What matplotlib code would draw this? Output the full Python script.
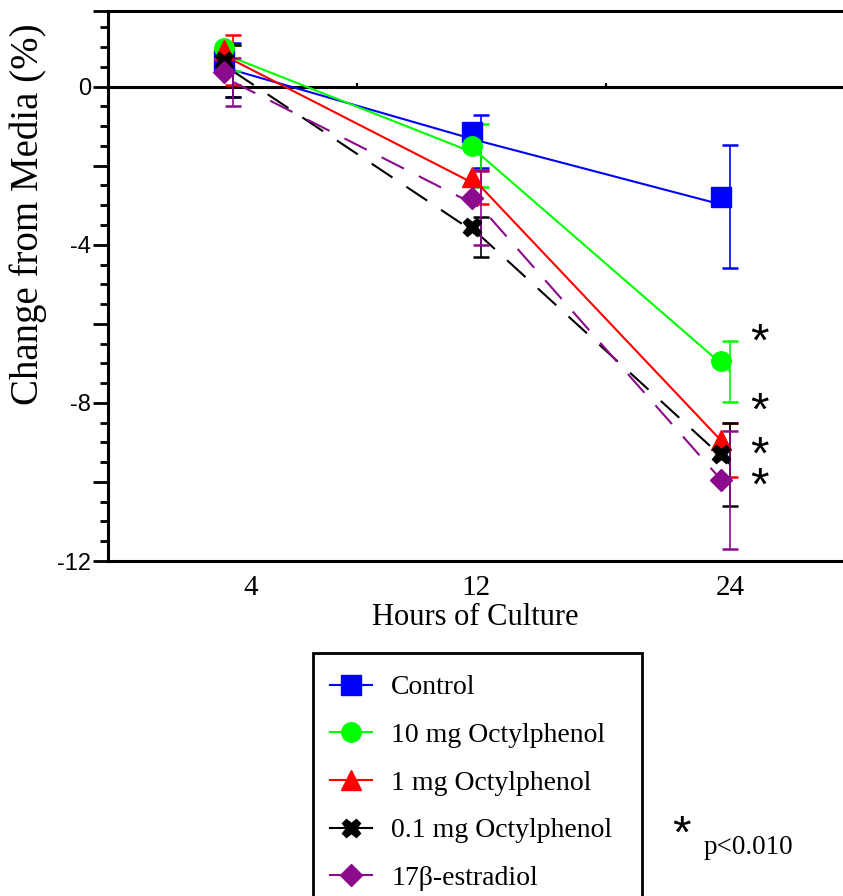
import numpy as np
import matplotlib
matplotlib.use('Agg')
import matplotlib.pyplot as plt
import matplotlib.transforms as mtransforms
from matplotlib.ticker import FixedLocator, FixedFormatter, MultipleLocator
from matplotlib.lines import Line2D
from matplotlib.patches import Rectangle

# data
hours = ['4', '12', '24']
names = ['Control', '10 mg Octylphenol', '1 mg Octylphenol',
         '0.1 mg Octylphenol', '17\u03b2-estradiol']
control = [0.42, -1.39, -3.04]
control_err = [0.68, 0.68, 1.56]
op10 = [0.73, -1.75, -7.20]
op10_err = [0.33, 0.80, 0.77]
op1 = [0.67, -2.55, -9.19]
op1_err = [0.64, 0.43, 0.68]
op01 = [0.39, -3.80, -9.55]
op01_err = [0.66, 0.50, 1.05]
estradiol = [0.12, -3.07, -10.20]
estradiol_err = [0.60, 0.93, 1.50]
star_y = [-6.5, -8.25, -9.4, -10.1]   # significance marks at 24 h

means = [control, op10, op1, op01, estradiol]
errs = [control_err, op10_err, op1_err, op01_err, estradiol_err]
colors = ['#0000ff', '#00ff00', '#ff0000', '#000000', '#8c0a8c']
markers = ['s', 'o', '^', 'X', 'D']
msizes = [14, 14, 14, 13, 11]
dashed = [False, False, False, True, True]

serif = 'Liberation Serif'
sans = 'Liberation Sans'

fig = plt.figure(figsize=(8.43, 8.96), dpi=100)
ax = fig.add_axes([108 / 843, 1 - 561 / 896, 1 - 108 / 843, (561 - 10.7) / 896])

x = np.arange(len(hours))
# markers sit a little up and left of the line vertices in the original
mk_trans = mtransforms.offset_copy(ax.transData, fig=fig, x=-9, y=10, units='dots')

for m, e, c, mk, ms, d in zip(means, errs, colors, markers, msizes, dashed):
    ls = (0, (12, 8)) if d else '-'
    ax.plot(x, m, color=c, lw=1.5, ls=ls, zorder=2)
    ax.errorbar(x, m, yerr=e, fmt='none', ecolor=c, elinewidth=1.2,
                capsize=5.6, capthick=1.8, zorder=2)
    ax.plot(x, m, ls='none', marker=mk, ms=ms, color=c, mec=c,
            transform=mk_trans, zorder=3)

ax.axhline(0, color='black', lw=2.2, zorder=1)
ax.plot([0.5, 1.5], [0, 0], ls='none', marker=2, ms=3, mew=1.5, color='black')

# the two lowest marks sit close together, so they share one text block
ax.text(2.12, star_y[0], '*', fontsize=34, family=sans, ha='center', va='center')
ax.text(2.12, star_y[1], '*', fontsize=34, family=sans, ha='center', va='center')
ax.text(2.12, (star_y[2] + star_y[3]) / 2, '*\n*', fontsize=34, family=sans,
        ha='center', va='center', linespacing=0.6)

ax.set_xlim(-0.503, 2.455)
ax.set_ylim(-12, 1.92)

for s in ['left', 'bottom', 'top']:
    ax.spines[s].set_linewidth(2.2)
ax.spines['right'].set_visible(False)

ax.yaxis.set_major_locator(FixedLocator([-12, -10, -8, -6, -4, -2, 0, 1.92]))
ax.yaxis.set_major_formatter(FixedFormatter(['-12', '', '-8', '', '-4', '', '0', '']))
ax.yaxis.set_minor_locator(MultipleLocator(0.5))
ax.tick_params(axis='y', which='major', length=11, width=2, labelsize=17, pad=1)
ax.tick_params(axis='y', which='minor', length=6, width=2)
for lab in ax.get_yticklabels():
    lab.set_family(sans)

ax.set_xticks([0.07, 0.98, 2.0])
ax.set_xticklabels(hours, family=serif, fontsize=21)
ax.tick_params(axis='x', length=0, pad=10)

ax.set_xlabel('Hours of Culture', family=serif, fontsize=22)
ax.xaxis.set_label_coords(0.50, -0.077)
fig.text(28 / 843, 1 - 214 / 896, 'Change from Media (%)', family=serif,
         fontsize=28, rotation=90, ha='center', va='center')

handles = [Line2D([], [], color=c, lw=1.5, marker=mk, ms=ms, mec=c)
           for c, mk, ms in zip(colors, markers, msizes)]
fig.legend(handles, names, loc='upper left', bbox_to_anchor=(330 / 843, 1 - 675 / 896),
           frameon=False, prop={'family': serif, 'size': 20}, handlelength=1.5,
           handletextpad=0.7, labelspacing=0.8, borderaxespad=0, borderpad=0)
fig.patches.append(Rectangle((313 / 843, -0.02), (642 - 313) / 843, 0.02 + (896 - 653) / 896,
                             transform=fig.transFigure, fill=False, lw=2, ec='black'))

fig.text(681 / 843, 1 - 836 / 896, '*', family=sans, fontsize=34, ha='center', va='center')
fig.text(748 / 843, 1 - 847 / 896, 'p<0.010', family=serif, fontsize=19.5, ha='center', va='center')

fig.savefig('out.png', dpi=100)
